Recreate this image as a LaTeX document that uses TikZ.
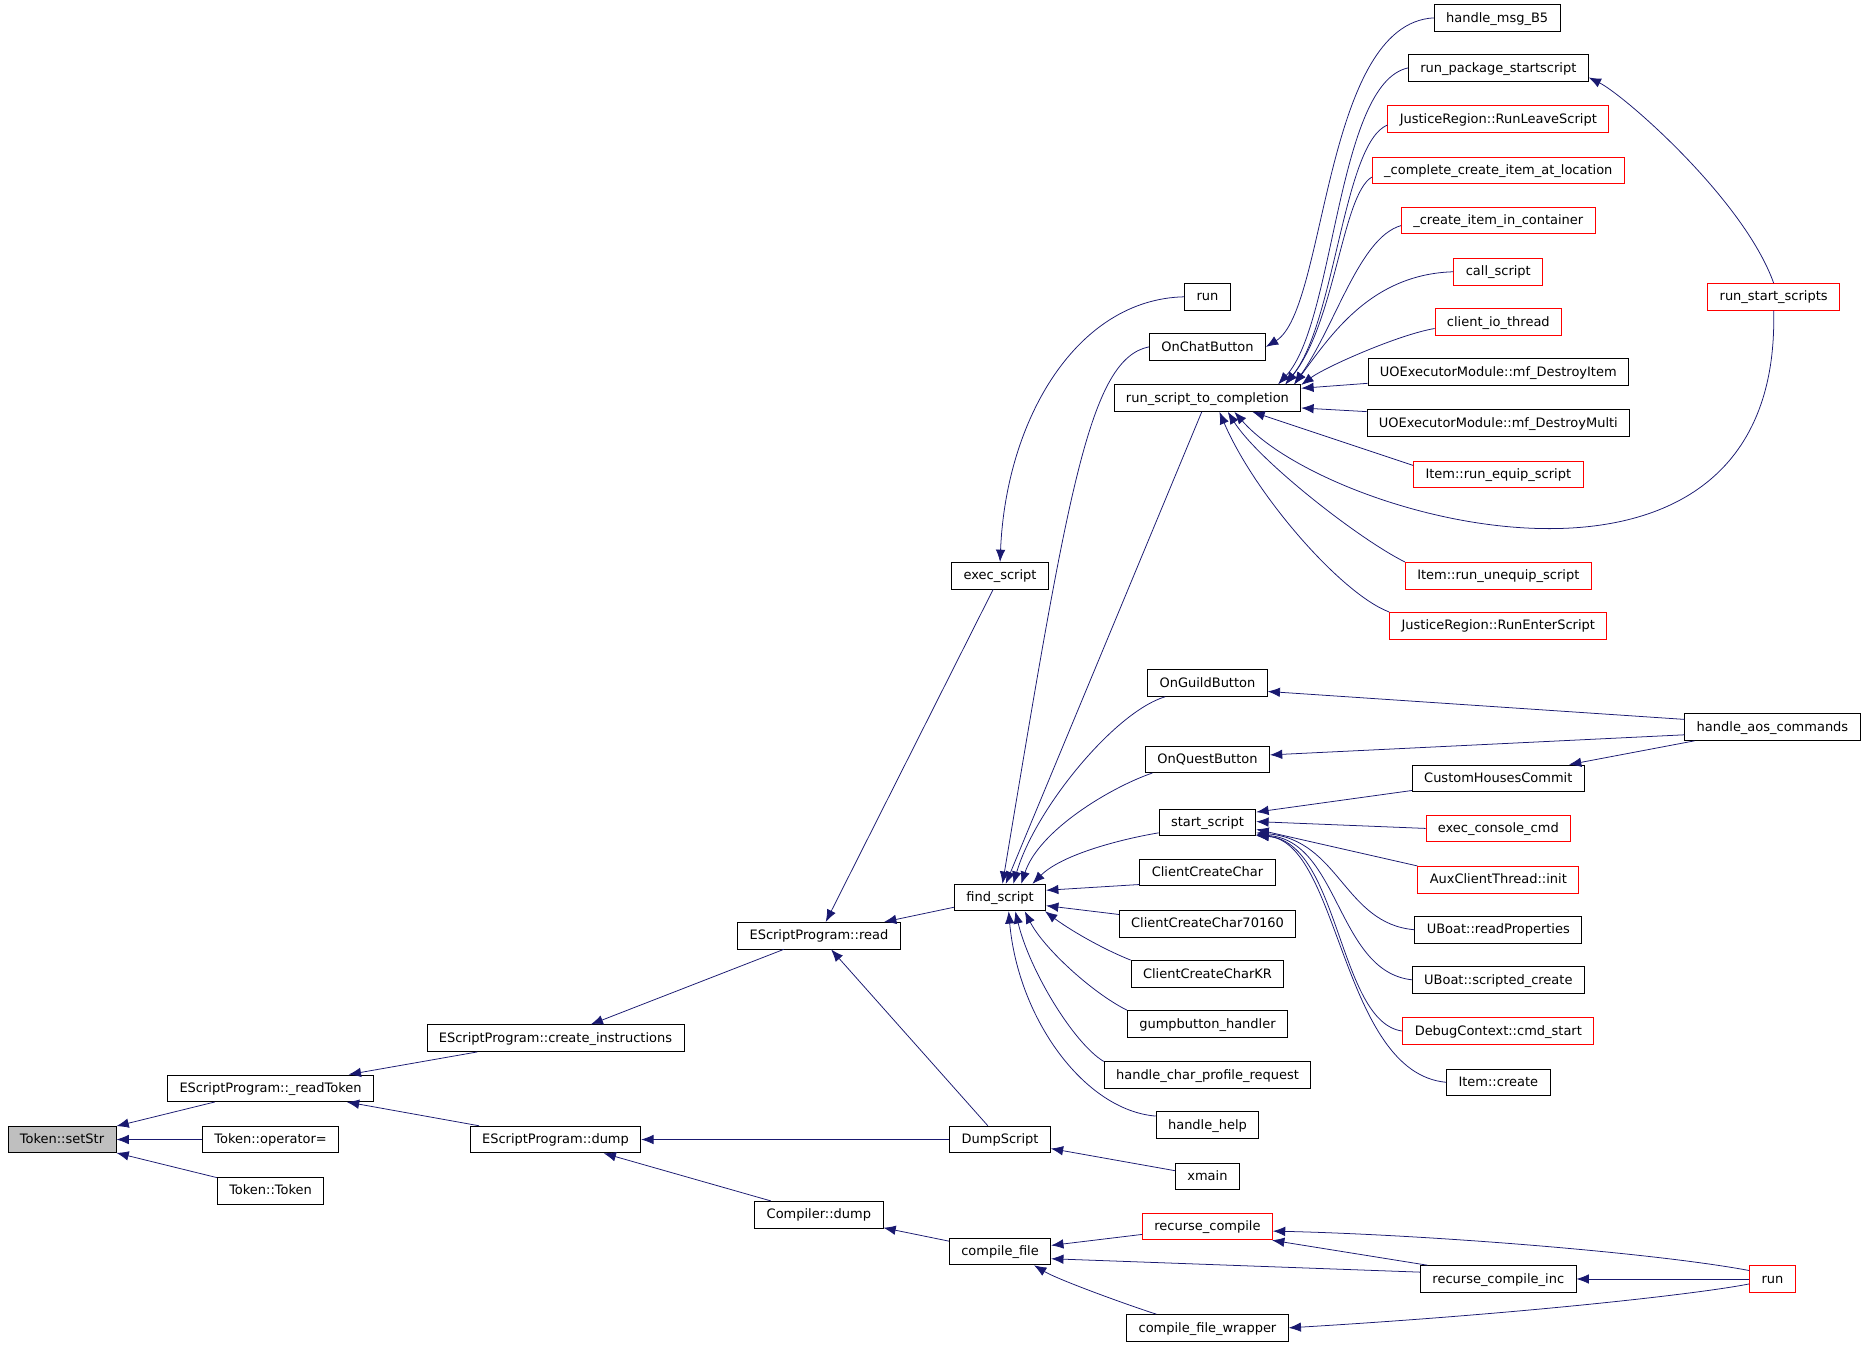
\documentclass[tikz,border=0pt]{standalone}
\usepackage{fontspec}
\setmainfont{DejaVu Sans}
\usetikzlibrary{arrows.meta}
\definecolor{edgeblue}{HTML}{191970}
\definecolor{boxred}{HTML}{FF0000}
\definecolor{boxgray}{HTML}{BFBFBF}
\tikzset{
  fn/.style={draw=black,fill=white,line width=0.6pt,inner xsep=0.3cm,inner ysep=0pt,minimum height=0.67cm,
    text height=1.5ex,text depth=0.4ex,font=\fontsize{9.3}{11}\selectfont},
  fnred/.style={fn,draw=boxred},
  fnroot/.style={fn,fill=boxgray},
  calledby/.style={draw=edgeblue,line width=0.55pt,{Latex[length=0.31cm,width=0.24cm]}-}
}
\begin{document}
\begin{tikzpicture}[x=0.03cm,y=-0.03cm]
\useasboundingbox (0,0) rectangle (1568,1131);
% callee and first callers
\node[fnroot] (setStr) at (52,956) {Token::setStr};
\node[fn] (readToken) at (227,913) {EScriptProgram::\_readToken};
\node[fn] (opeq) at (227,956) {Token::operator=};
\node[fn] (tokctor) at (227,999) {Token::Token};
\node[fn] (createinstr) at (466,871) {EScriptProgram::create\_instructions};
\node[fn] (epdump) at (466,956) {EScriptProgram::dump};
\node[fn] (epread) at (687,785) {EScriptProgram::read};
\node[fn] (compdump) at (687,1019) {Compiler::dump};
\node[fn] (execscript) at (839,483) {exec\_script};
\node[fn] (findscript) at (839,753) {find\_script};
\node[fn] (dumpscript) at (839,956) {DumpScript};
\node[fn] (compilefile) at (839,1050) {compile\_file};
% fifth column
\node[fn] (runexec) at (1013,249) {run};
\node[fn] (onchat) at (1013,291) {OnChatButton};
\node[fn] (rstc) at (1013,334) {run\_script\_to\_completion};
\node[fn] (onguild) at (1013,573) {OnGuildButton};
\node[fn] (onquest) at (1013,637) {OnQuestButton};
\node[fn] (startscript) at (1013,690) {start\_script};
\node[fn] (ccc) at (1013,732) {ClientCreateChar};
\node[fn] (ccc70) at (1013,775) {ClientCreateChar70160};
\node[fn] (ccckr) at (1013,817) {ClientCreateCharKR};
\node[fn] (gump) at (1013,859) {gumpbutton\_handler};
\node[fn] (hcpr) at (1013,902) {handle\_char\_profile\_request};
\node[fn] (hhelp) at (1013,944) {handle\_help};
\node[fn] (xmain) at (1013,987) {xmain};
\node[fnred] (recomp) at (1013,1029) {recurse\_compile};
\node[fn] (cfw) at (1013,1114) {compile\_file\_wrapper};
% sixth column
\node[fn] (hmsg) at (1256,15) {handle\_msg\_B5};
\node[fn] (rpss) at (1257,57) {run\_package\_startscript};
\node[fnred] (jrleave) at (1257,100) {JusticeRegion::RunLeaveScript};
\node[fnred] (ccial) at (1257,143) {\_complete\_create\_item\_at\_location};
\node[fnred] (ciic) at (1257,185) {\_create\_item\_in\_container};
\node[fnred] (callscript) at (1257,228) {call\_script};
\node[fnred] (ciot) at (1257,270) {client\_io\_thread};
\node[fn] (destroyitem) at (1257,312) {UOExecutorModule::mf\_DestroyItem};
\node[fn] (destroymulti) at (1257,355) {UOExecutorModule::mf\_DestroyMulti};
\node[fnred] (equip) at (1257,398) {Item::run\_equip\_script};
\node[fnred] (unequip) at (1257,483) {Item::run\_unequip\_script};
\node[fnred] (jrenter) at (1257,525) {JusticeRegion::RunEnterScript};
\node[fn] (chc) at (1257,653) {CustomHousesCommit};
\node[fnred] (ecc) at (1257,695) {exec\_console\_cmd};
\node[fnred] (aux) at (1257,738) {AuxClientThread::init};
\node[fn] (ubread) at (1257,780) {UBoat::readProperties};
\node[fn] (ubcreate) at (1257,822) {UBoat::scripted\_create};
\node[fnred] (dbg) at (1257,865) {DebugContext::cmd\_start};
\node[fn] (itemcreate) at (1257,908) {Item::create};
\node[fn] (rci) at (1257,1073) {recurse\_compile\_inc};
% last column
\node[fnred] (rss) at (1488,249) {run\_start\_scripts};
\node[fn] (haos) at (1487,610) {handle\_aos\_commands};
\node[fnred] (runall) at (1487,1073) {run};
% straight calls
\draw[calledby] (setStr) -- (readToken);
\draw[calledby] (setStr) -- (opeq);
\draw[calledby] (setStr) -- (tokctor);
\draw[calledby] (readToken) -- (createinstr);
\draw[calledby] (readToken) -- (epdump);
\draw[calledby] (createinstr) -- (epread);
\draw[calledby] (epdump) -- (dumpscript);
\draw[calledby] (epdump) -- (compdump);
\draw[calledby] (epread) -- (execscript);
\draw[calledby] (epread) -- (findscript);
\draw[calledby] (epread) -- (dumpscript);
\draw[calledby] (compdump) -- (compilefile);
\draw[calledby] (dumpscript) -- (xmain);
\draw[calledby] (compilefile) -- (recomp);
\draw[calledby] (compilefile.-8) -- (rci.175);
\draw[calledby] (recomp.-12) -- (rci.169);
\draw[calledby] (rci) -- (runall);
\draw[calledby] (findscript) -- (rstc);
\draw[calledby] (findscript.9) -- (ccc.190);
\draw[calledby] (findscript.-10) -- (ccc70.174);
\draw[calledby] (onguild.-8) -- (haos.175);
\draw[calledby] (onquest.4) -- (haos.185);
\draw[calledby] (chc.11) -- (haos.190);
\draw[calledby] (startscript.12) -- (chc.188);
\draw[calledby] (startscript.1) -- (ecc.west);
\draw[calledby] (startscript.-8) -- (aux.north west);
\draw[calledby] (rstc.6) -- (destroyitem.185);
\draw[calledby] (rstc.-6) -- (destroymulti.175);
\draw[calledby] (rstc.-17) -- (equip.174);
% curved calls
\draw[calledby] (execscript.north) .. controls +(5,-120) and +(-90,2) .. (runexec.west);
\draw[calledby] (findscript.80) .. controls +(55,-330) and +(-50,10) .. (onchat.west);
\draw[calledby] (findscript.46) .. controls +(18,-62) and +(-43,13) .. (onguild.198);
\draw[calledby] (findscript.33) .. controls +(15,-45) and +(-35,12) .. (onquest.194);
\draw[calledby] (findscript.23) .. controls +(25,-25) and +(-30,5) .. (startscript.192);
\draw[calledby] (findscript.-17) .. controls +(20,15) and +(-25,-10) .. (ccckr.north west);
\draw[calledby] (findscript.-29) .. controls +(15,30) and +(-30,-15) .. (gump.north west);
\draw[calledby] (findscript.-42) .. controls +(12,50) and +(-25,-15) .. (hcpr.north west);
\draw[calledby] (findscript.-58) .. controls +(8,90) and +(-60,-5) .. (hhelp.170);
\draw[calledby] (compilefile.-22) .. controls +(20,12) and +(-25,-8) .. (cfw.165);
\draw[calledby] (recomp.-4) .. controls +(130,3) and +(-80,-15) .. (runall.160);
\draw[calledby] (cfw.east) .. controls +(200,-12) and +(-40,8) .. (runall.192);
\draw[calledby] (startscript.-12) .. controls +(70,6) and +(-59,-5) .. (ubread.west);
\draw[calledby] (startscript.-14) .. controls +(70,5) and +(-63,-7) .. (ubcreate.west);
\draw[calledby] (startscript.-15) .. controls +(70,5) and +(-54,-7) .. (dbg.west);
\draw[calledby] (startscript.-15) .. controls +(70,5) and +(-88,-8) .. (itemcreate.west);
\draw[calledby] (onchat.east) .. controls +(51,-31) and +(-93,5) .. (hmsg.west);
\draw[calledby] (rstc.11) .. controls +(48,-52) and +(-60,13) .. (rpss.west);
\draw[calledby] (rstc.10) .. controls +(42,-52) and +(-37,15) .. (jrleave.183);
\draw[calledby] (rstc.10) .. controls +(42,-52) and +(-25,15) .. (ccial.183);
\draw[calledby] (rstc.9) .. controls +(35,-50) and +(-35,10) .. (ciic.183);
\draw[calledby] (rstc.9) .. controls +(30,-40) and +(-70,2) .. (callscript.west);
\draw[calledby] (rstc.8) .. controls +(20,-15) and +(-30,5) .. (ciot.186);
\draw[calledby] (rstc.-34) .. controls +(25,40) and +(-40,-20) .. (unequip.north west);
\draw[calledby] (rstc.-49) .. controls +(30,70) and +(-40,-15) .. (jrenter.north west);
\draw[calledby] (rstc.-27) .. controls +(80,92) and +(7,280) .. (rss.south);
\draw[calledby] (rpss.-6) .. controls +(30,15) and +(-25,-70) .. (rss.north);
\end{tikzpicture}
\end{document}
